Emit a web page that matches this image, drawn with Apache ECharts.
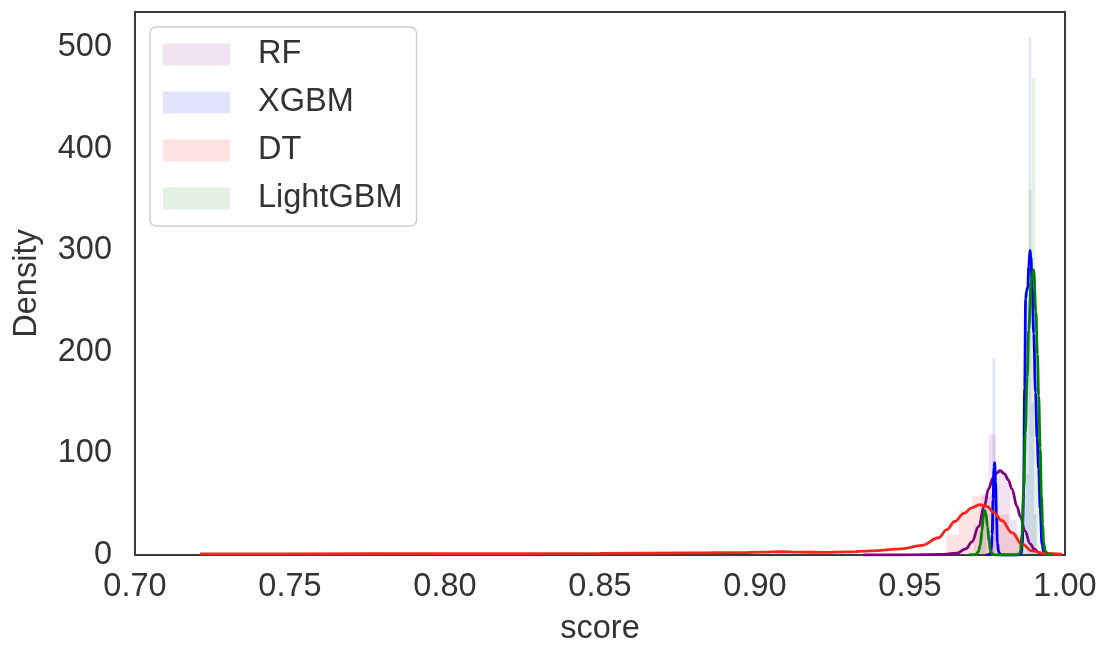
<!DOCTYPE html>
<html>
<head>
<meta charset="utf-8">
<script src="https://cdn.jsdelivr.net/npm/echarts@6/dist/echarts.min.js"></script>
<style>
  html, body { margin: 0; padding: 0; background: #fff; }
  #chart { width: 1105px; height: 651px; }
</style>
</head>
<body>
<div id="chart"></div>
<script>
// Model names, in drawing order
const models = ['RF', 'XGBM', 'DT', 'LightGBM'];

// Histogram bins per model: [left edge, right edge, density]
const rfBins = [[0.9706, 0.9730, 30], [0.9730, 0.9754, 60], [0.9754, 0.9777, 119], [0.9777, 0.9800, 85], [0.9800, 0.9823, 78], [0.9823, 0.9846, 35], [0.9846, 0.9869, 12]];
const xgbBins = [[0.9766, 0.9775, 194], [0.9866, 0.9874, 60], [0.9874, 0.9883, 250], [0.9883, 0.9891, 510], [0.9891, 0.9900, 150], [0.9900, 0.9908, 40]];
const dtBins = [[0.9060, 0.9110, 3], [0.9618, 0.9658, 20], [0.9658, 0.9699, 44], [0.9699, 0.9739, 58], [0.9739, 0.9779, 58], [0.9779, 0.9819, 40], [0.9819, 0.9860, 22]];
const lgbBins = [[0.9728, 0.9745, 40], [0.9873, 0.9883, 80], [0.9883, 0.9893, 360], [0.9893, 0.9904, 470], [0.9904, 0.9914, 120]];

// Kernel density curves per model: [score, density]
const rfKde = [[0.935, 0], [0.950, 0.2], [0.960, 0.5], [0.965, 1.8], [0.968, 6], [0.970, 13], [0.9721, 28], [0.974, 48], [0.9753, 65], [0.9768, 76], [0.978, 81], [0.9791, 83], [0.9805, 80], [0.9817, 74], [0.9829, 65], [0.9845, 48], [0.9856, 38], [0.987, 24], [0.9888, 11], [0.990, 6], [0.9915, 2.5], [0.993, 0.8], [0.995, 0]];
const xgbKde = [[0.9745, 0], [0.9758, 0.5], [0.9762, 4], [0.9765, 20], [0.9768, 55], [0.9771, 86], [0.9773, 91], [0.9776, 72], [0.9779, 38], [0.9782, 12], [0.9786, 3], [0.9792, 0.3], [0.9800, 0], [0.9850, 0], [0.9858, 0.5], [0.9862, 8], [0.9866, 55], [0.9870, 165], [0.9873, 252], [0.9876, 260], [0.9880, 264], [0.9883, 284], [0.9887, 300], [0.9890, 294], [0.9894, 265], [0.9899, 218], [0.9905, 160], [0.9910, 115], [0.9915, 85], [0.9920, 45], [0.9926, 10], [0.9932, 2], [0.9940, 0]];
const dtKde = [[0.721, 1.2], [0.75, 1.2], [0.80, 1.3], [0.85, 1.6], [0.88, 2.0], [0.895, 2.4], [0.903, 2.8], [0.9085, 3.2], [0.914, 2.8], [0.922, 2.6], [0.930, 3.0], [0.9376, 4.0], [0.9473, 6.0], [0.9538, 9.5], [0.9592, 17], [0.9619, 25], [0.9644, 33], [0.9674, 41], [0.9699, 46.5], [0.9725, 49.5], [0.9748, 48], [0.9770, 42], [0.9796, 34], [0.9829, 22], [0.9861, 11], [0.9893, 4], [0.9935, 1.5], [0.999, 0.8]];
const lgbKde = [[0.9690, 0], [0.9712, 0.5], [0.9720, 3], [0.9727, 10], [0.9732, 24], [0.9737, 38], [0.9741, 44], [0.9745, 41], [0.9750, 28], [0.9755, 13], [0.9760, 4], [0.9766, 0.8], [0.9775, 0], [0.9845, 0], [0.9852, 1], [0.9856, 3], [0.9861, 20], [0.9867, 65], [0.9872, 120], [0.9878, 175], [0.9883, 222], [0.9891, 271], [0.9899, 281], [0.9906, 240], [0.9911, 198], [0.9915, 157], [0.9920, 105], [0.9924, 58], [0.9928, 30], [0.9931, 13], [0.9936, 4], [0.9945, 0.5], [0.9960, 0]];

// Axis ticks
const xTicks = { min: 0.70, max: 1.00, step: 0.05 };
const yTicks = { min: 0, max: 535, step: 100 };

const lineColors = ['#800080', '#0000ff', '#f2261d', '#008000'];
const barColors = ['rgba(128,0,128,0.11)', 'rgba(0,0,255,0.11)', 'rgba(255,0,0,0.11)', 'rgba(0,128,0,0.11)'];
const binSets = [rfBins, xgbBins, dtBins, lgbBins];
const kdeSets = [rfKde, xgbKde, dtKde, lgbKde];

const FONT = 'Liberation Sans, Arial, sans-serif';
const TEXT = '#333333';
const FS = 32.5;

function histSeries(name, bins, color) {
  return {
    name: name,
    type: 'custom',
    data: bins,
    silent: true,
    itemStyle: { color: color },
    renderItem: function (params, api) {
      const topLeft = api.coord([api.value(0), api.value(2)]);
      const bottomRight = api.coord([api.value(1), 0]);
      return {
        type: 'rect',
        shape: {
          x: topLeft[0], y: topLeft[1],
          width: bottomRight[0] - topLeft[0],
          height: bottomRight[1] - topLeft[1]
        },
        style: { fill: color }
      };
    }
  };
}

function kdeSeries(name, pts, color) {
  return {
    name: name,
    type: 'line',
    data: pts,
    showSymbol: false,
    silent: true,
    smooth: 0.4,
    smoothMonotone: 'x',
    lineStyle: { color: color, width: 2.8 },
    itemStyle: { color: color }
  };
}

const series = [];
models.forEach(function (m, i) {
  series.push(histSeries(m, binSets[i], barColors[i]));
  series.push(kdeSeries(m, kdeSets[i], lineColors[i]));
});

const chart = echarts.init(document.getElementById('chart'), null, { renderer: 'canvas' });
chart.setOption({
  animation: false,
  backgroundColor: '#ffffff',
  grid: {
    left: 135, right: 40, top: 12, bottom: 95,
    show: true, borderColor: '#3a3a3a', borderWidth: 2, backgroundColor: 'transparent'
  },
  legend: {
    orient: 'vertical',
    left: 150, top: 27,
    padding: [11, 14, 11, 13],
    itemWidth: 67, itemHeight: 22, itemGap: 15,
    icon: 'rect',
    backgroundColor: '#ffffff',
    borderColor: '#cfcfcf', borderWidth: 1.5, borderRadius: 6,
    selectedMode: false,
    textStyle: { fontFamily: FONT, fontSize: FS, color: TEXT, padding: [0, 0, 0, 23] },
    data: models.map(function (m, i) {
      return { name: m, icon: 'rect', itemStyle: { color: barColors[i], borderWidth: 0 } };
    })
  },
  xAxis: {
    type: 'value',
    min: xTicks.min, max: xTicks.max, interval: xTicks.step,
    name: 'score', nameLocation: 'middle', nameGap: 58,
    nameTextStyle: { fontFamily: FONT, fontSize: FS, color: TEXT },
    axisLine: { show: false }, axisTick: { show: false }, splitLine: { show: false },
    axisLabel: {
      margin: 16, fontFamily: FONT, fontSize: FS, color: TEXT,
      formatter: function (v) { return v.toFixed(2); }
    }
  },
  yAxis: {
    type: 'value',
    min: yTicks.min, max: yTicks.max, interval: yTicks.step,
    name: 'Density', nameLocation: 'middle', nameGap: 91, nameRotate: 90,
    nameTextStyle: { fontFamily: FONT, fontSize: FS, color: TEXT },
    axisLine: { show: false }, axisTick: { show: false }, splitLine: { show: false },
    axisLabel: {
      margin: 23, fontFamily: FONT, fontSize: FS, color: TEXT,
      showMaxLabel: false,
      formatter: function (v) { return (v % 100 === 0) ? String(v) : ''; }
    }
  },
  series: series
});
</script>
</body>
</html>
